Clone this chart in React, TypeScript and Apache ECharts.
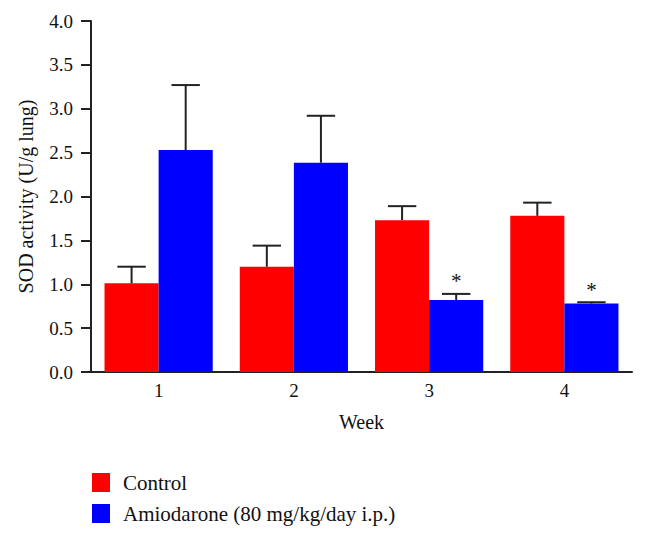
import React, { useEffect, useRef } from "react";
import * as echarts from "echarts";

const weeks = ["1", "2", "3", "4"];
const controlMean = [1.01, 1.2, 1.73, 1.78];
const controlErrTop = [1.2, 1.44, 1.89, 1.93];
const amioMean = [2.53, 2.385, 0.82, 0.78];
const amioErrTop = [3.27, 2.92, 0.89, 0.795];
const amioSignificant = [false, false, true, true];
const yTicks = [0, 0.5, 1, 1.5, 2, 2.5, 3, 3.5, 4];

const FONT = "'Liberation Serif', 'DejaVu Serif', serif";
const INK = "#222222";

function errorSeries(name: string, means: number[], tops: number[], side: number, sig: boolean[] | null) {
  return {
    type: "custom",
    name: name + "-err",
    silent: true,
    z: 5,
    data: means.map((m, i) => [i, m, tops[i], sig && sig[i] ? 1 : 0]),
    renderItem: (params: any, api: any) => {
      const idx = api.value(0);
      const mean = api.value(1);
      const top = api.value(2);
      const band = api.size([1, 0])[0];
      const off = side * band * 0.2;
      const p0 = api.coord([idx, mean]);
      const p1 = api.coord([idx, top]);
      const x = p0[0] + off;
      const capHalf = band * 0.105;
      const children: any[] = [
        { type: "line", shape: { x1: x, y1: p0[1], x2: x, y2: p1[1] }, style: { stroke: INK, lineWidth: 2 } },
        { type: "line", shape: { x1: x - capHalf, y1: p1[1], x2: x + capHalf, y2: p1[1] }, style: { stroke: INK, lineWidth: 2 } },
      ];
      if (api.value(3) === 1) {
        children.push({
          type: "text",
          style: {
            x: x,
            y: p1[1] - 2,
            text: "*",
            fill: "#111",
            font: "21px " + FONT,
            align: "center",
            verticalAlign: "bottom",
          },
        });
      }
      return { type: "group", children };
    },
  };
}

export default function App() {
  const ref = useRef<HTMLDivElement>(null);
  useEffect(() => {
    if (!ref.current) return;
    const chart = echarts.init(ref.current, null, { renderer: "svg" });
    chart.setOption({
      animation: false,
      backgroundColor: "#ffffff",
      textStyle: { fontFamily: FONT },
      grid: { left: 91, top: 21, width: 541, height: 351, containLabel: false },
      legend: {
        orient: "vertical",
        left: 92,
        top: 472,
        padding: 0,
        itemWidth: 18,
        itemHeight: 19,
        itemGap: 10,
        icon: "rect",
        data: ["Control", "Amiodarone (80 mg/kg/day i.p.)"],
        textStyle: { fontFamily: FONT, fontSize: 21, color: "#111", padding: [0, 0, 0, 8] },
      },
      xAxis: {
        type: "category",
        data: weeks,
        name: "Week",
        nameLocation: "middle",
        nameGap: 40,
        nameTextStyle: { fontFamily: FONT, fontSize: 20, color: "#111" },
        axisLine: { lineStyle: { color: INK, width: 2 } },
        axisTick: { show: false },
        axisLabel: { fontFamily: FONT, fontSize: 19, color: "#111", margin: 9 },
      },
      yAxis: {
        type: "value",
        min: yTicks[0],
        max: yTicks[yTicks.length - 1],
        interval: 0.5,
        name: "SOD activity (U/g lung)",
        nameLocation: "middle",
        nameGap: 55,
        nameTextStyle: { fontFamily: FONT, fontSize: 20, color: "#111" },
        axisLine: { show: true, lineStyle: { color: INK, width: 2 } },
        axisTick: { show: true, length: 10, lineStyle: { color: INK, width: 2 } },
        axisLabel: {
          fontFamily: FONT,
          fontSize: 19,
          color: "#111",
          margin: 18,
          formatter: (v: number) => v.toFixed(1),
        },
        splitLine: { show: false },
      },
      series: [
        {
          type: "bar",
          name: "Control",
          data: controlMean,
          barGap: "0%",
          barCategoryGap: "20%",
          itemStyle: { color: "#ff0000" },
        },
        {
          type: "bar",
          name: "Amiodarone (80 mg/kg/day i.p.)",
          data: amioMean,
          barGap: "0%",
          barCategoryGap: "20%",
          itemStyle: { color: "#0000ff" },
        },
        errorSeries("Control", controlMean, controlErrTop, -1, null),
        errorSeries("Amiodarone", amioMean, amioErrTop, 1, amioSignificant),
      ],
    });
    return () => chart.dispose();
  }, []);
  return <div ref={ref} style={{ width: 646, height: 534, margin: -8 }} />;
}
